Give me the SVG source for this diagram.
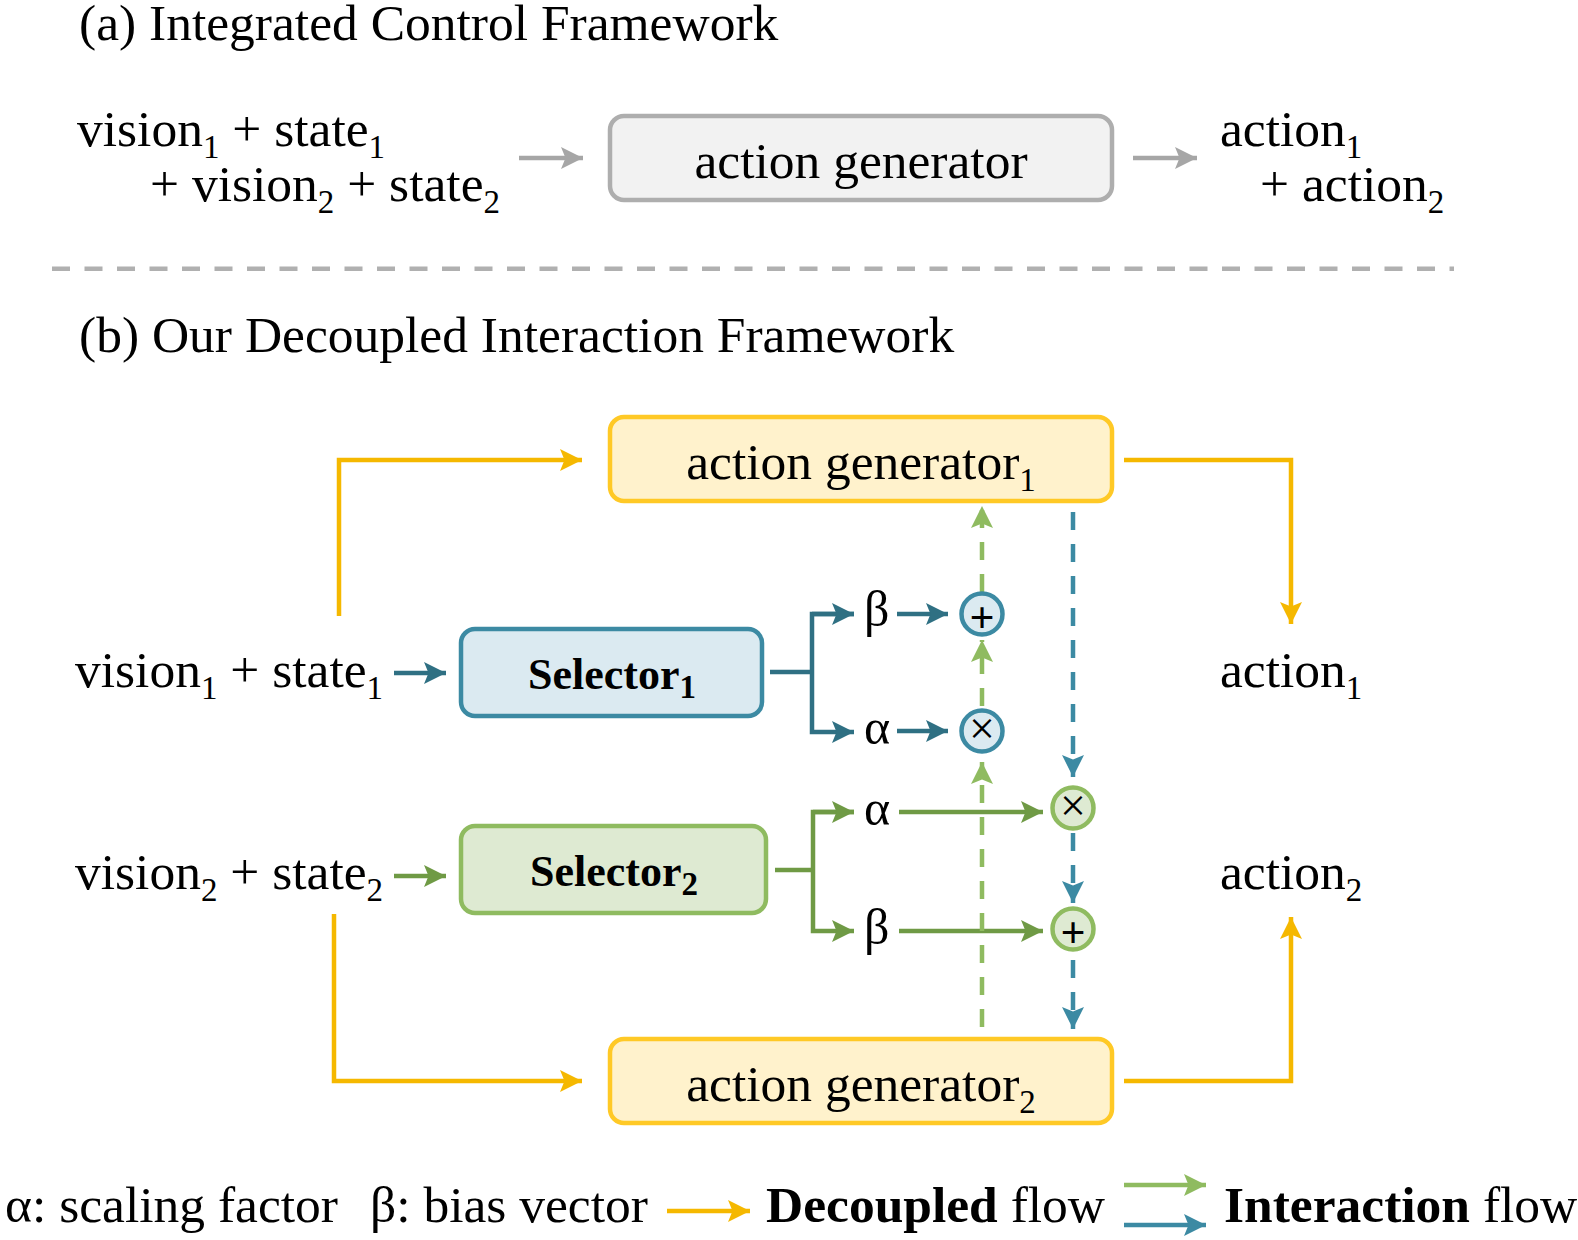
<svg xmlns="http://www.w3.org/2000/svg" width="1578" height="1240" viewBox="0 0 1578 1240">
<style>
text{font-family:"Liberation Serif","Times New Roman",serif;font-size:51.5px;fill:#000}
.s{font-size:33px}
.b{font-weight:bold}
.box{stroke-width:4.5px}
.l{fill:none;stroke-width:4.5px}
.y{stroke:#f5b800}.t{stroke:#2f7083}.g{stroke:#6f9a45}.lg{stroke:#8fbb60}.lb{stroke:#3c8aa3}.gr{stroke:#a6a6a6}
.d{stroke-dasharray:18 14}
</style>
<defs>
<marker id="ay" markerUnits="userSpaceOnUse" markerWidth="23" markerHeight="24" refX="22" refY="12" orient="auto"><path d="M0 1L22 12L0 23L4.5 12Z" fill="#f5b800"/></marker>
<marker id="at" markerUnits="userSpaceOnUse" markerWidth="23" markerHeight="24" refX="22" refY="12" orient="auto"><path d="M0 1L22 12L0 23L4.5 12Z" fill="#2f7083"/></marker>
<marker id="ag" markerUnits="userSpaceOnUse" markerWidth="23" markerHeight="24" refX="22" refY="12" orient="auto"><path d="M0 1L22 12L0 23L4.5 12Z" fill="#6f9a45"/></marker>
<marker id="alg" markerUnits="userSpaceOnUse" markerWidth="23" markerHeight="24" refX="22" refY="12" orient="auto"><path d="M0 1L22 12L0 23L4.5 12Z" fill="#8fbb60"/></marker>
<marker id="alb" markerUnits="userSpaceOnUse" markerWidth="23" markerHeight="24" refX="22" refY="12" orient="auto"><path d="M0 1L22 12L0 23L4.5 12Z" fill="#3c8aa3"/></marker>
<marker id="agr" markerUnits="userSpaceOnUse" markerWidth="23" markerHeight="24" refX="22" refY="12" orient="auto"><path d="M0 1L22 12L0 23L4.5 12Z" fill="#a6a6a6"/></marker>
</defs>
<g id="titles">
<text x="79" y="40">(a) Integrated Control Framework</text>
<text x="79" y="352">(b) Our Decoupled Interaction Framework</text>
</g>
<g id="inputs-a">
<text x="77" y="146">vision<tspan class="s" dy="12">1</tspan><tspan dy="-12"> + state</tspan><tspan class="s" dy="12">1</tspan></text>
<text x="150" y="201">+ vision<tspan class="s" dy="12">2</tspan><tspan dy="-12"> + state</tspan><tspan class="s" dy="12">2</tspan></text>
</g>
<g id="outputs-a">
<text x="1220" y="146">action<tspan class="s" dy="12">1</tspan></text>
<text x="1260" y="201">+ action<tspan class="s" dy="12">2</tspan></text>
</g>
<g id="box-a"><rect class="box" x="610" y="116" width="502" height="84" rx="14" fill="#f2f2f2" stroke="#aeaeae"/><text x="861" y="178" text-anchor="middle">action generator</text></g>
<path id="divider" d="M52 268.7H1454" fill="none" stroke="#b0b0b0" stroke-width="4.5" stroke-dasharray="18 14.5"/>
<g id="gen1"><rect class="box" x="610" y="417" width="502" height="84" rx="14" fill="#fff2cc" stroke="#ffc926"/><text x="861" y="479" text-anchor="middle">action generator<tspan class="s" dy="12">1</tspan></text></g>
<g id="gen2"><rect class="box" x="610" y="1039" width="502" height="84" rx="14" fill="#fff2cc" stroke="#ffc926"/><text x="861" y="1101" text-anchor="middle">action generator<tspan class="s" dy="12">2</tspan></text></g>
<g id="sel1"><rect class="box" x="461" y="629" width="301" height="87" rx="14" fill="#dbeaf1" stroke="#3c8aa3"/><text class="b" x="612" y="689" text-anchor="middle" style="font-size:44px">Selector<tspan class="s" dy="9">1</tspan></text></g>
<g id="sel2"><rect class="box" x="461" y="826" width="305" height="87" rx="14" fill="#deead2" stroke="#8fbb60"/><text class="b" x="614" y="886" text-anchor="middle" style="font-size:44px">Selector<tspan class="s" dy="9">2</tspan></text></g>
<g id="in1"><text x="75" y="687">vision<tspan class="s" dy="12">1</tspan><tspan dy="-12"> + state</tspan><tspan class="s" dy="12">1</tspan></text></g>
<g id="in2"><text x="75" y="889">vision<tspan class="s" dy="12">2</tspan><tspan dy="-12"> + state</tspan><tspan class="s" dy="12">2</tspan></text></g>
<g id="out1"><text x="1220" y="687">action<tspan class="s" dy="12">1</tspan></text></g>
<g id="out2"><text x="1220" y="889">action<tspan class="s" dy="12">2</tspan></text></g>
<g id="greek">
<text x="864" y="626" style="font-size:50px">β</text><text x="864" y="744" style="font-size:50px">α</text><text x="864" y="825" style="font-size:50px">α</text><text x="864" y="944" style="font-size:50px">β</text>
</g>
<g id="connectors">
<path class="l gr" d="M519 158H583" marker-end="url(#agr)"/>
<path class="l gr" d="M1133 158H1197" marker-end="url(#agr)"/>
<path class="l y" d="M339 616V460H582" marker-end="url(#ay)"/>
<path class="l y" d="M1124 460H1291V624" marker-end="url(#ay)"/>
<path class="l y" d="M334 914V1081H582" marker-end="url(#ay)"/>
<path class="l y" d="M1124 1081H1291V917" marker-end="url(#ay)"/>
<path class="l t" d="M394 673H446" marker-end="url(#at)"/>
<path class="l g" d="M394 876H446" marker-end="url(#ag)"/>
<path class="l t" d="M770 672H812M854 614H812V732H854" marker-end="url(#at)"/>
<path class="l t" d="M812 614H854" marker-end="url(#at)"/>
<path class="l t" d="M897 614H948" marker-end="url(#at)"/>
<path class="l t" d="M897 731H948" marker-end="url(#at)"/>
<path class="l g" d="M775 870H813M854 812H813V931H854" marker-end="url(#ag)"/>
<path class="l g" d="M813 812H854" marker-end="url(#ag)"/>
<path class="l g" d="M899 812H1043" marker-end="url(#ag)"/>
<path class="l g" d="M899 931H1043" marker-end="url(#ag)"/>
<path class="l lg d" d="M982 1027V762" marker-end="url(#alg)"/>
<path class="l lg d" d="M982 706V640" marker-end="url(#alg)"/>
<path class="l lg d" d="M982 592V506" marker-end="url(#alg)"/>
<path class="l lb d" d="M1073 512V777" marker-end="url(#alb)"/>
<path class="l lb d" d="M1073 833V903" marker-end="url(#alb)"/>
<path class="l lb d" d="M1073 960V1029" marker-end="url(#alb)"/>
</g>
<g id="op-plus-1"><circle cx="982" cy="614" r="20.5" fill="#dbeaf1" stroke="#3c8aa3" stroke-width="4.5"/><text x="982" y="632" text-anchor="middle" style="font-size:44px;font-weight:bold">+</text></g>
<g id="op-times-1"><circle cx="982" cy="731" r="20.5" fill="#dbeaf1" stroke="#3c8aa3" stroke-width="4.5"/><text x="982" y="744" text-anchor="middle" style="font-size:46px">×</text></g>
<g id="op-times-2"><circle cx="1073" cy="808" r="20.5" fill="#deead2" stroke="#8fbb60" stroke-width="4.5"/><text x="1073" y="821" text-anchor="middle" style="font-size:46px">×</text></g>
<g id="op-plus-2"><circle cx="1073" cy="929" r="20.5" fill="#deead2" stroke="#8fbb60" stroke-width="4.5"/><text x="1073" y="947" text-anchor="middle" style="font-size:44px;font-weight:bold">+</text></g>
<g id="legend">
<text x="5" y="1222">α: scaling factor</text>
<text x="370" y="1222">β: bias vector</text>
<path class="l y" d="M667 1211H750" marker-end="url(#ay)"/>
<text x="766" y="1222"><tspan class="b">Decoupled</tspan> flow</text>
<path class="l lg" d="M1124 1185H1206" marker-end="url(#alg)"/>
<path class="l lb" d="M1124 1225H1206" marker-end="url(#alb)"/>
<text x="1224" y="1222"><tspan class="b">Interaction</tspan> flow</text>
</g>
</svg>
